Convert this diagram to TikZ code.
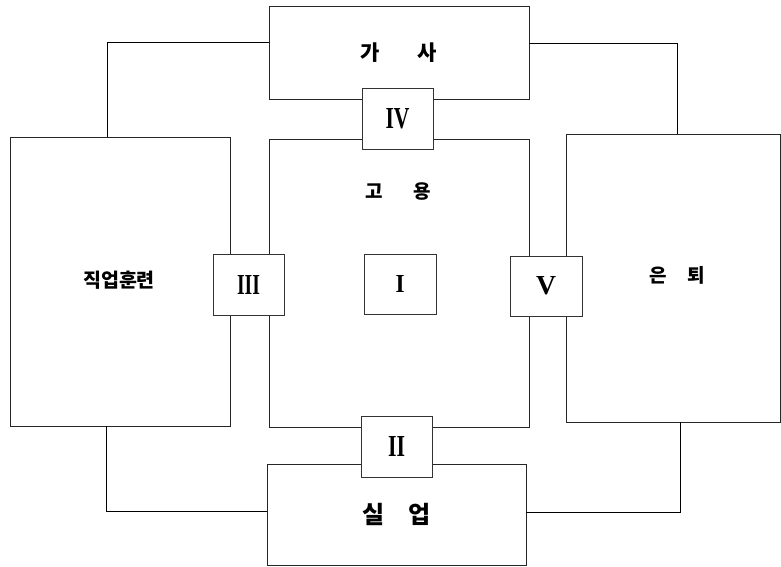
\documentclass[tikz,border=0pt]{standalone}
\usepackage{fontspec}
\setmainfont{Liberation Serif}
\newfontfamily\kr{Noto Sans CJK KR}
\usepackage{graphicx}
\newcommand{\rnum}[3]{\resizebox{#1}{#2}{\bfseries #3}}
\begin{document}
\begin{tikzpicture}[x=1pt,y=-1pt,
  bigbox/.style={draw=black!85, line width=0.9pt, fill=white, inner sep=0pt},
  numbox/.style={draw=black!80, line width=0.9pt, fill=white, inner sep=0pt, minimum width=71pt, minimum height=61pt},
  conn/.style={draw=black, line width=0.9pt},
  krtext/.style={font=\kr\bfseries}]
\useasboundingbox (0,0) rectangle (781,566);
% big boxes
\node[bigbox, minimum width=260pt, minimum height=93pt, krtext, font=\kr\bfseries\fontsize{21}{21}\selectfont] (gasa) at (399,52.5) {가\hspace{38pt}사};
\node[bigbox, minimum width=260pt, minimum height=288pt] (goyong) at (399,283) {};
\node[bigbox, minimum width=220pt, minimum height=289pt, font=\kr\bfseries\fontsize{19.5}{19.5}\selectfont] (jikup) at (120,281.5) {};
\node[bigbox, minimum width=214pt, minimum height=288pt] (eunt) at (673,278) {};
\node[bigbox, minimum width=259pt, minimum height=101pt, font=\kr\bfseries\fontsize{24}{24}\selectfont] (silup) at (396.5,514.5) {실\hspace{24pt}업};
% texts
\node[font=\kr\bfseries\fontsize{19}{19}\selectfont, inner sep=0pt] (goyongtxt) at (398,191) {고\hspace{31pt}용};
\node[font=\kr\bfseries\fontsize{19.5}{19.5}\selectfont, inner sep=0pt] (jikuptxt) at (119,280) {직업훈련};
\node[font=\kr\bfseries\fontsize{19}{19}\selectfont, inner sep=0pt] (euntxt) at (677,275) {은\hspace{21pt}퇴};
% connectors
\coordinate (c1) at (107,42);
\coordinate (c2) at (677,43);
\coordinate (c3) at (680,512);
\coordinate (c4) at (106,511);
\draw[conn] (gasa.west |- c1) -| (jikup.north -| c1);
\draw[conn] (gasa.east |- c2) -| (eunt.north -| c2);
\draw[conn] (eunt.south -| c3) |- (silup.east |- c3);
\draw[conn] (jikup.south -| c4) |- (silup.west |- c4);
% numeral boxes
\node[numbox] (n4) at (397.5,118.5) {\rnum{24pt}{20pt}{IV}};
\node[numbox] (n3) at (248.5,284.5) {\rnum{23pt}{19pt}{III}};
\node[numbox, minimum width=72pt, minimum height=60pt] (n1) at (400,284) {\rnum{9pt}{17pt}{I}};
\node[numbox, minimum width=72pt, minimum height=60pt] (n5) at (546,286) {\rnum{20pt}{18pt}{V}};
\node[numbox] (n2) at (396.5,446.5) {\rnum{17pt}{20pt}{II}};
\end{tikzpicture}
\end{document}
